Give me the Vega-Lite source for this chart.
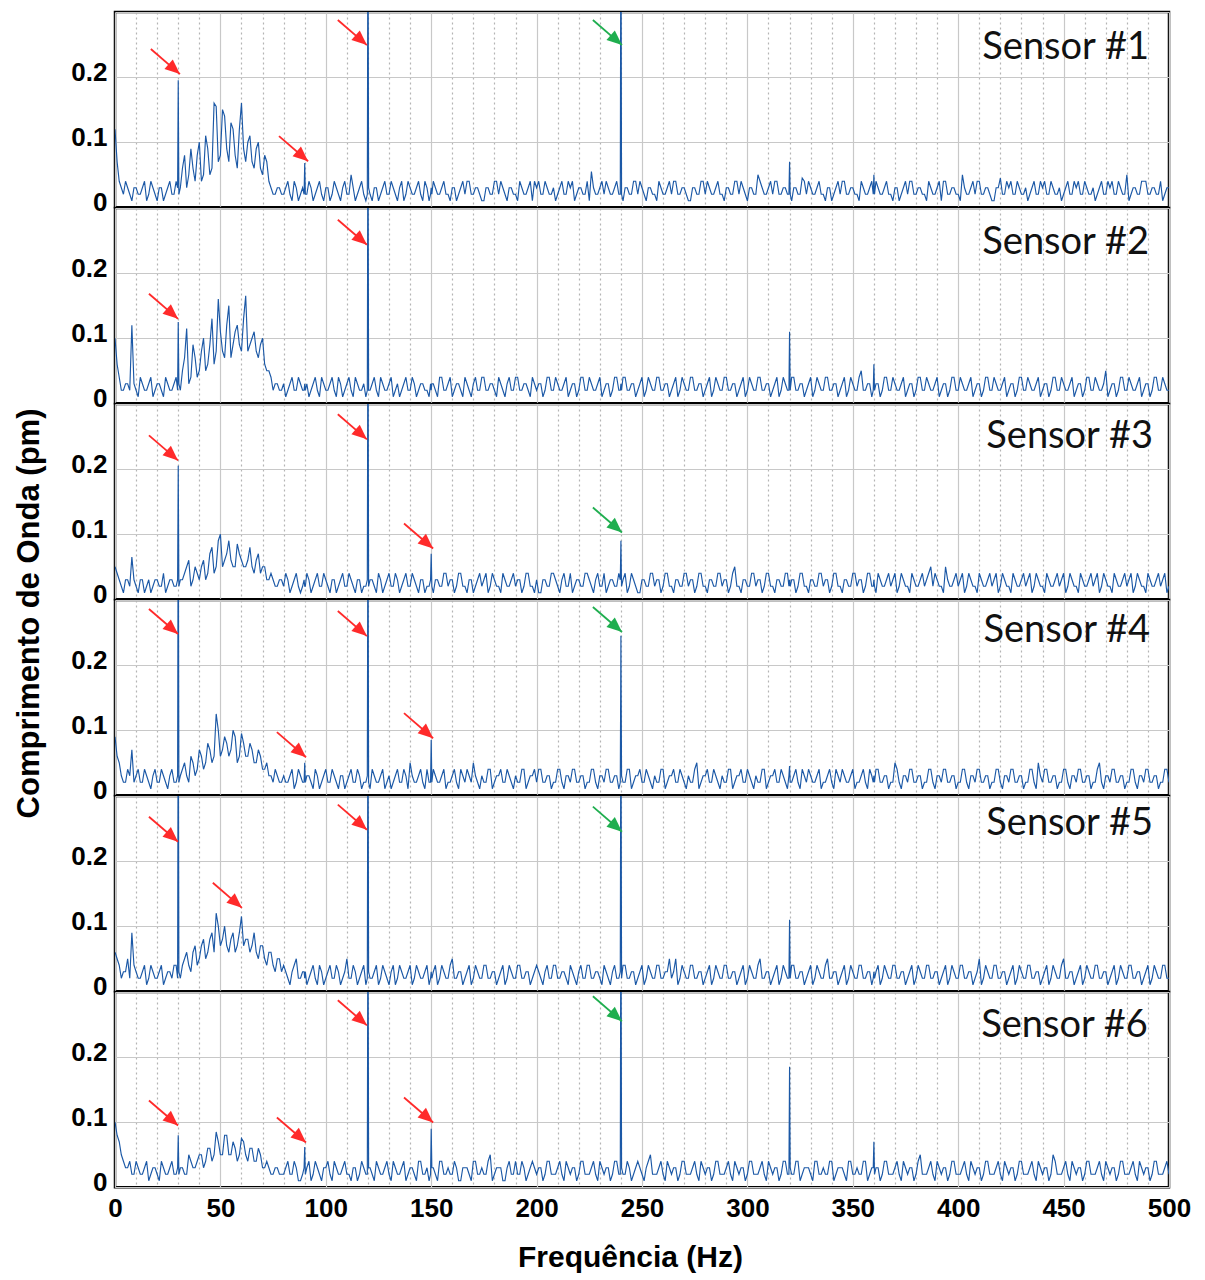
{
"$schema":"https://vega.github.io/schema/vega-lite/v6.json",
"padding":{"left":12,"top":10,"right":10,"bottom":5},
"spacing":0,
"bounds":"flush",
"config":{
"view":{"stroke":"#000","strokeWidth":2.5},
"axis":{"labelFont":"Liberation Sans","labelFontWeight":"bold","labelColor":"#000","titleFont":"Liberation Sans","titleFontWeight":"bold","titleColor":"#000","domain":false,"ticks":false,"gridColor":"#c8c8c8","gridWidth":1.2},
"axisY":{"tickCount":3,"labelFontSize":26,"labelPadding":8,"labelOffset":-5,"labelExpr":"datum.value>0.25?'':format(datum.value,'~g')","titleFontSize":31,"titlePadding":25},
"axisX":{"tickCount":50,"labelFontSize":26,"labelPadding":8,"labelFlush":false,"labelOverlap":false,"titleFontSize":30,"titlePadding":21}
},
"datasets":{
"s":[
{"x":0,"a":0.12,"b":0.10,"c":0.05,"d":0.09,"e":0.06,"f":0.10},
{"x":2,"a":0.04,"b":0.04,"c":0.03,"d":0.05,"e":0.04,"f":0.07},
{"x":4,"a":0.02,"b":0.02,"c":0.01,"d":0.02,"e":0.03,"f":0.04},
{"x":6,"a":0.03,"b":0.03,"c":0.03,"d":0.04,"e":0.05,"f":0.03},
{"x":8,"a":0.01,"b":0.12,"c":0.065,"d":0.07,"e":0.09,"f":0.02},
{"x":10,"a":0.03,"b":0.02,"c":0.02,"d":0.03,"e":0.03,"f":0.04},
{"x":12,"a":0.02,"b":0.04,"c":0.03,"d":0.02,"e":0.02,"f":0.02},
{"x":14,"a":0.04,"b":0.02,"c":0.01,"d":0.04,"e":0.04,"f":0.03},
{"x":16,"a":0.02,"b":0.03,"c":0.03,"d":0.02,"e":0.02,"f":0.01},
{"x":18,"a":0.03,"b":0.01,"c":0.02,"d":0.03,"e":0.03,"f":0.03},
{"x":20,"a":0.01,"b":0.03,"c":0.03,"d":0.02,"e":0.02,"f":0.02},
{"x":22,"a":0.03,"b":0.02,"c":0.02,"d":0.04,"e":0.04,"f":0.04},
{"x":24,"a":0.02,"b":0.04,"c":0.01,"d":0.02,"e":0.02,"f":0.02},
{"x":26,"a":0.04,"b":0.02,"c":0.03,"d":0.03,"e":0.03,"f":0.03},
{"x":28,"a":0.02,"b":0.03,"c":0.02,"d":0.02,"e":0.04,"f":0.02},
{"x":29.7,"a":0.03,"b":0.02,"c":0.03,"d":0.03,"e":0.02,"f":0.03},
{"x":30,"a":0.195,"b":0.125,"c":0.205,"d":0.5,"e":0.5,"f":0.08},
{"x":30.3,"a":0.02,"b":0.03,"c":0.02,"d":0.02,"e":0.03,"f":0.02},
{"x":32,"a":0.06,"b":0.05,"c":0.03,"d":0.04,"e":0.04,"f":0.03},
{"x":34,"a":0.03,"b":0.115,"c":0.05,"d":0.03,"e":0.06,"f":0.02},
{"x":36,"a":0.09,"b":0.04,"c":0.02,"d":0.06,"e":0.03,"f":0.04},
{"x":38,"a":0.04,"b":0.07,"c":0.05,"d":0.03,"e":0.07,"f":0.03},
{"x":40,"a":0.10,"b":0.05,"c":0.03,"d":0.07,"e":0.05,"f":0.05},
{"x":42,"a":0.05,"b":0.10,"c":0.06,"d":0.04,"e":0.08,"f":0.03},
{"x":44,"a":0.09,"b":0.06,"c":0.04,"d":0.08,"e":0.06,"f":0.06},
{"x":46,"a":0.06,"b":0.13,"c":0.08,"d":0.05,"e":0.09,"f":0.04},
{"x":48,"a":0.155,"b":0.08,"c":0.05,"d":0.125,"e":0.12,"f":0.085},
{"x":50,"a":0.08,"b":0.11,"c":0.10,"d":0.06,"e":0.07,"f":0.05},
{"x":52,"a":0.14,"b":0.07,"c":0.06,"d":0.09,"e":0.10,"f":0.08},
{"x":54,"a":0.07,"b":0.15,"c":0.09,"d":0.06,"e":0.06,"f":0.05},
{"x":56,"a":0.12,"b":0.09,"c":0.05,"d":0.10,"e":0.09,"f":0.07},
{"x":58,"a":0.06,"b":0.12,"c":0.085,"d":0.05,"e":0.07,"f":0.04},
{"x":60,"a":0.16,"b":0.08,"c":0.06,"d":0.095,"e":0.115,"f":0.075},
{"x":62,"a":0.07,"b":0.165,"c":0.05,"d":0.06,"e":0.08,"f":0.05},
{"x":64,"a":0.11,"b":0.09,"c":0.08,"d":0.08,"e":0.06,"f":0.06},
{"x":66,"a":0.06,"b":0.11,"c":0.04,"d":0.05,"e":0.09,"f":0.04},
{"x":68,"a":0.10,"b":0.07,"c":0.07,"d":0.07,"e":0.05,"f":0.06},
{"x":70,"a":0.05,"b":0.10,"c":0.05,"d":0.04,"e":0.07,"f":0.03},
{"x":72,"a":0.07,"b":0.05,"c":0.03,"d":0.05,"e":0.04,"f":0.04},
{"x":74,"a":0.03,"b":0.04,"c":0.04,"d":0.03,"e":0.06,"f":0.02},
{"x":76,"a":0.02,"b":0.03,"c":0.02,"d":0.04,"e":0.03,"f":0.03},
{"x":78,"a":0.03,"b":0.02,"c":0.03,"d":0.02,"e":0.05,"f":0.02},
{"x":80,"a":0.02,"b":0.03,"c":0.02,"d":0.03,"e":0.04,"f":0.02},
{"x":82,"a":0.04,"b":0.02,"c":0.03,"d":0.02,"e":0.02,"f":0.04},
{"x":84,"a":0.01,"b":0.04,"c":0.02,"d":0.04,"e":0.03,"f":0.02},
{"x":86,"a":0.03,"b":0.02,"c":0.04,"d":0.02,"e":0.05,"f":0.03},
{"x":88,"a":0.02,"b":0.03,"c":0.01,"d":0.03,"e":0.02,"f":0.01},
{"x":89.7,"a":0.02,"b":0.02,"c":0.03,"d":0.02,"e":0.03,"f":0.03},
{"x":90,"a":0.068,"b":0.03,"c":0.02,"d":0.05,"e":0.02,"f":0.062},
{"x":90.3,"a":0.02,"b":0.02,"c":0.02,"d":0.02,"e":0.03,"f":0.02},
{"x":92,"a":0.04,"b":0.01,"c":0.03,"d":0.03,"e":0.02,"f":0.04},
{"x":94,"a":0.01,"b":0.03,"c":0.02,"d":0.01,"e":0.04,"f":0.02},
{"x":96,"a":0.03,"b":0.02,"c":0.04,"d":0.03,"e":0.01,"f":0.03},
{"x":98,"a":0.02,"b":0.04,"c":0.02,"d":0.02,"e":0.03,"f":0.01},
{"x":100,"a":0.03,"b":0.02,"c":0.03,"d":0.04,"e":0.02,"f":0.03},
{"x":102,"a":0.01,"b":0.03,"c":0.01,"d":0.02,"e":0.04,"f":0.02},
{"x":104,"a":0.04,"b":0.02,"c":0.03,"d":0.03,"e":0.02,"f":0.04},
{"x":106,"a":0.02,"b":0.04,"c":0.02,"d":0.01,"e":0.03,"f":0.02},
{"x":108,"a":0.03,"b":0.01,"c":0.04,"d":0.03,"e":0.02,"f":0.03},
{"x":110,"a":0.02,"b":0.03,"c":0.02,"d":0.02,"e":0.05,"f":0.02},
{"x":112,"a":0.05,"b":0.02,"c":0.03,"d":0.04,"e":0.02,"f":0.01},
{"x":114,"a":0.01,"b":0.04,"c":0.01,"d":0.02,"e":0.03,"f":0.03},
{"x":116,"a":0.03,"b":0.02,"c":0.03,"d":0.03,"e":0.02,"f":0.02},
{"x":118,"a":0.02,"b":0.03,"c":0.02,"d":0.02,"e":0.04,"f":0.03},
{"x":119.7,"a":0.02,"b":0.02,"c":0.03,"d":0.03,"e":0.02,"f":0.02},
{"x":120,"a":0.5,"b":0.5,"c":0.5,"d":0.5,"e":0.5,"f":0.5},
{"x":120.3,"a":0.03,"b":0.02,"c":0.02,"d":0.02,"e":0.03,"f":0.03},
{"x":122,"a":0.01,"b":0.03,"c":0.03,"d":0.04,"e":0.02,"f":0.02},
{"x":124,"a":0.03,"b":0.02,"c":0.01,"d":0.02,"e":0.04,"f":0.04},
{"x":126,"a":0.02,"b":0.04,"c":0.03,"d":0.03,"e":0.02,"f":0.02},
{"x":128,"a":0.04,"b":0.02,"c":0.02,"d":0.01,"e":0.03,"f":0.03},
{"x":130,"a":0.02,"b":0.03,"c":0.04,"d":0.03,"e":0.01,"f":0.02},
{"x":132,"a":0.03,"b":0.01,"c":0.02,"d":0.02,"e":0.04,"f":0.04},
{"x":134,"a":0.01,"b":0.03,"c":0.03,"d":0.04,"e":0.02,"f":0.02},
{"x":136,"a":0.04,"b":0.02,"c":0.02,"d":0.02,"e":0.03,"f":0.03},
{"x":138,"a":0.02,"b":0.04,"c":0.04,"d":0.03,"e":0.02,"f":0.01},
{"x":140,"a":0.03,"b":0.02,"c":0.02,"d":0.05,"e":0.04,"f":0.03},
{"x":142,"a":0.02,"b":0.03,"c":0.03,"d":0.02,"e":0.02,"f":0.02},
{"x":144,"a":0.04,"b":0.02,"c":0.01,"d":0.03,"e":0.03,"f":0.04},
{"x":146,"a":0.01,"b":0.03,"c":0.03,"d":0.02,"e":0.02,"f":0.02},
{"x":148,"a":0.03,"b":0.02,"c":0.02,"d":0.04,"e":0.04,"f":0.03},
{"x":149.7,"a":0.02,"b":0.03,"c":0.03,"d":0.02,"e":0.02,"f":0.02},
{"x":150,"a":0.03,"b":0.02,"c":0.07,"d":0.085,"e":0.03,"f":0.09},
{"x":150.3,"a":0.02,"b":0.03,"c":0.02,"d":0.02,"e":0.02,"f":0.03},
{"x":152,"a":0.03,"b":0.02,"c":0.03,"d":0.03,"e":0.04,"f":0.02},
{"x":154,"a":0.02,"b":0.04,"c":0.02,"d":0.02,"e":0.02,"f":0.04},
{"x":156,"a":0.04,"b":0.02,"c":0.04,"d":0.04,"e":0.03,"f":0.02},
{"x":158,"a":0.02,"b":0.03,"c":0.02,"d":0.02,"e":0.02,"f":0.03},
{"x":160,"a":0.03,"b":0.01,"c":0.03,"d":0.03,"e":0.05,"f":0.02},
{"x":162,"a":0.01,"b":0.03,"c":0.02,"d":0.02,"e":0.02,"f":0.03},
{"x":164,"a":0.03,"b":0.02,"c":0.04,"d":0.04,"e":0.03,"f":0.01},
{"x":166,"a":0.02,"b":0.04,"c":0.02,"d":0.02,"e":0.02,"f":0.03},
{"x":168,"a":0.04,"b":0.02,"c":0.03,"d":0.03,"e":0.04,"f":0.02},
{"x":170,"a":0.02,"b":0.03,"c":0.01,"d":0.05,"e":0.02,"f":0.04},
{"x":172,"a":0.03,"b":0.02,"c":0.03,"d":0.02,"e":0.03,"f":0.02},
{"x":174,"a":0.01,"b":0.04,"c":0.02,"d":0.03,"e":0.02,"f":0.03},
{"x":176,"a":0.03,"b":0.02,"c":0.04,"d":0.02,"e":0.04,"f":0.02},
{"x":178,"a":0.02,"b":0.03,"c":0.02,"d":0.04,"e":0.02,"f":0.05},
{"x":180,"a":0.04,"b":0.02,"c":0.03,"d":0.02,"e":0.03,"f":0.02},
{"x":182,"a":0.02,"b":0.04,"c":0.02,"d":0.03,"e":0.02,"f":0.03},
{"x":184,"a":0.03,"b":0.02,"c":0.04,"d":0.02,"e":0.04,"f":0.01},
{"x":186,"a":0.01,"b":0.03,"c":0.02,"d":0.04,"e":0.02,"f":0.03},
{"x":188,"a":0.03,"b":0.02,"c":0.03,"d":0.02,"e":0.03,"f":0.02},
{"x":190,"a":0.02,"b":0.04,"c":0.02,"d":0.03,"e":0.02,"f":0.04},
{"x":192,"a":0.04,"b":0.02,"c":0.03,"d":0.02,"e":0.04,"f":0.02},
{"x":194,"a":0.02,"b":0.03,"c":0.02,"d":0.04,"e":0.02,"f":0.03},
{"x":196,"a":0.03,"b":0.02,"c":0.04,"d":0.02,"e":0.03,"f":0.02},
{"x":198,"a":0.01,"b":0.04,"c":0.02,"d":0.03,"e":0.02,"f":0.04},
{"x":200,"a":0.03,"b":0.02,"c":0.03,"d":0.02,"e":0.04,"f":0.02},
{"x":202,"a":0.02,"b":0.03,"c":0.01,"d":0.04,"e":0.02,"f":0.03},
{"x":204,"a":0.04,"b":0.02,"c":0.03,"d":0.02,"e":0.03,"f":0.02},
{"x":206,"a":0.02,"b":0.04,"c":0.02,"d":0.03,"e":0.02,"f":0.04},
{"x":208,"a":0.03,"b":0.02,"c":0.04,"d":0.02,"e":0.04,"f":0.02},
{"x":210,"a":0.02,"b":0.03,"c":0.02,"d":0.04,"e":0.02,"f":0.03},
{"x":212,"a":0.04,"b":0.02,"c":0.03,"d":0.02,"e":0.03,"f":0.02},
{"x":214,"a":0.02,"b":0.04,"c":0.02,"d":0.03,"e":0.02,"f":0.04},
{"x":216,"a":0.03,"b":0.02,"c":0.04,"d":0.02,"e":0.04,"f":0.02},
{"x":218,"a":0.01,"b":0.03,"c":0.02,"d":0.04,"e":0.02,"f":0.03},
{"x":220,"a":0.03,"b":0.02,"c":0.03,"d":0.02,"e":0.03,"f":0.02},
{"x":222,"a":0.02,"b":0.04,"c":0.02,"d":0.03,"e":0.02,"f":0.04},
{"x":224,"a":0.04,"b":0.02,"c":0.04,"d":0.02,"e":0.04,"f":0.02},
{"x":226,"a":0.055,"b":0.03,"c":0.02,"d":0.04,"e":0.02,"f":0.03},
{"x":228,"a":0.02,"b":0.02,"c":0.03,"d":0.02,"e":0.03,"f":0.02},
{"x":230,"a":0.03,"b":0.04,"c":0.02,"d":0.03,"e":0.02,"f":0.04},
{"x":232,"a":0.02,"b":0.02,"c":0.04,"d":0.02,"e":0.04,"f":0.02},
{"x":234,"a":0.03,"b":0.03,"c":0.02,"d":0.04,"e":0.02,"f":0.03},
{"x":236,"a":0.02,"b":0.02,"c":0.03,"d":0.02,"e":0.03,"f":0.02},
{"x":238,"a":0.04,"b":0.04,"c":0.02,"d":0.03,"e":0.02,"f":0.04},
{"x":239.7,"a":0.02,"b":0.02,"c":0.03,"d":0.02,"e":0.03,"f":0.02},
{"x":240,"a":0.5,"b":0.03,"c":0.09,"d":0.245,"e":0.5,"f":0.5},
{"x":240.3,"a":0.02,"b":0.02,"c":0.02,"d":0.03,"e":0.02,"f":0.03},
{"x":242,"a":0.03,"b":0.04,"c":0.04,"d":0.02,"e":0.04,"f":0.02},
{"x":244,"a":0.02,"b":0.02,"c":0.02,"d":0.04,"e":0.02,"f":0.03},
{"x":246,"a":0.04,"b":0.03,"c":0.03,"d":0.02,"e":0.03,"f":0.02},
{"x":248,"a":0.02,"b":0.02,"c":0.01,"d":0.03,"e":0.02,"f":0.04},
{"x":250,"a":0.03,"b":0.04,"c":0.03,"d":0.02,"e":0.04,"f":0.02},
{"x":252,"a":0.01,"b":0.02,"c":0.02,"d":0.04,"e":0.02,"f":0.03},
{"x":254,"a":0.03,"b":0.03,"c":0.04,"d":0.02,"e":0.03,"f":0.05},
{"x":256,"a":0.02,"b":0.02,"c":0.02,"d":0.03,"e":0.02,"f":0.02},
{"x":258,"a":0.04,"b":0.04,"c":0.03,"d":0.02,"e":0.04,"f":0.03},
{"x":260,"a":0.02,"b":0.02,"c":0.02,"d":0.04,"e":0.02,"f":0.02},
{"x":262,"a":0.03,"b":0.03,"c":0.04,"d":0.02,"e":0.03,"f":0.04},
{"x":264,"a":0.02,"b":0.02,"c":0.02,"d":0.03,"e":0.02,"f":0.02},
{"x":266,"a":0.04,"b":0.04,"c":0.03,"d":0.02,"e":0.05,"f":0.03},
{"x":268,"a":0.02,"b":0.02,"c":0.02,"d":0.04,"e":0.02,"f":0.02},
{"x":270,"a":0.03,"b":0.03,"c":0.04,"d":0.02,"e":0.03,"f":0.04},
{"x":272,"a":0.01,"b":0.02,"c":0.02,"d":0.03,"e":0.02,"f":0.02},
{"x":274,"a":0.03,"b":0.04,"c":0.03,"d":0.02,"e":0.04,"f":0.03},
{"x":276,"a":0.02,"b":0.02,"c":0.02,"d":0.05,"e":0.02,"f":0.02},
{"x":278,"a":0.04,"b":0.03,"c":0.04,"d":0.02,"e":0.03,"f":0.04},
{"x":280,"a":0.02,"b":0.02,"c":0.02,"d":0.03,"e":0.02,"f":0.02},
{"x":282,"a":0.03,"b":0.04,"c":0.03,"d":0.02,"e":0.04,"f":0.03},
{"x":284,"a":0.02,"b":0.02,"c":0.02,"d":0.04,"e":0.02,"f":0.02},
{"x":286,"a":0.04,"b":0.03,"c":0.04,"d":0.02,"e":0.03,"f":0.04},
{"x":288,"a":0.02,"b":0.02,"c":0.02,"d":0.03,"e":0.02,"f":0.02},
{"x":290,"a":0.03,"b":0.04,"c":0.03,"d":0.02,"e":0.04,"f":0.03},
{"x":292,"a":0.02,"b":0.02,"c":0.02,"d":0.04,"e":0.02,"f":0.02},
{"x":294,"a":0.04,"b":0.03,"c":0.05,"d":0.02,"e":0.03,"f":0.04},
{"x":296,"a":0.02,"b":0.02,"c":0.02,"d":0.03,"e":0.02,"f":0.02},
{"x":298,"a":0.03,"b":0.04,"c":0.03,"d":0.02,"e":0.04,"f":0.03},
{"x":300,"a":0.01,"b":0.02,"c":0.02,"d":0.04,"e":0.02,"f":0.02},
{"x":302,"a":0.03,"b":0.03,"c":0.04,"d":0.02,"e":0.03,"f":0.04},
{"x":304,"a":0.02,"b":0.02,"c":0.02,"d":0.03,"e":0.02,"f":0.02},
{"x":306,"a":0.04,"b":0.04,"c":0.03,"d":0.02,"e":0.05,"f":0.03},
{"x":308,"a":0.02,"b":0.02,"c":0.02,"d":0.04,"e":0.02,"f":0.02},
{"x":310,"a":0.03,"b":0.03,"c":0.04,"d":0.02,"e":0.03,"f":0.04},
{"x":312,"a":0.02,"b":0.02,"c":0.02,"d":0.03,"e":0.02,"f":0.02},
{"x":314,"a":0.04,"b":0.04,"c":0.03,"d":0.02,"e":0.04,"f":0.03},
{"x":316,"a":0.02,"b":0.02,"c":0.02,"d":0.04,"e":0.02,"f":0.02},
{"x":318,"a":0.03,"b":0.03,"c":0.04,"d":0.02,"e":0.03,"f":0.04},
{"x":319.7,"a":0.02,"b":0.02,"c":0.02,"d":0.03,"e":0.02,"f":0.02},
{"x":320,"a":0.07,"b":0.11,"c":0.03,"d":0.045,"e":0.11,"f":0.185},
{"x":320.3,"a":0.02,"b":0.02,"c":0.02,"d":0.02,"e":0.02,"f":0.03},
{"x":322,"a":0.03,"b":0.04,"c":0.03,"d":0.03,"e":0.04,"f":0.02},
{"x":324,"a":0.02,"b":0.02,"c":0.02,"d":0.02,"e":0.02,"f":0.04},
{"x":326,"a":0.045,"b":0.03,"c":0.04,"d":0.04,"e":0.03,"f":0.02},
{"x":328,"a":0.02,"b":0.02,"c":0.02,"d":0.02,"e":0.02,"f":0.03},
{"x":330,"a":0.03,"b":0.04,"c":0.03,"d":0.03,"e":0.04,"f":0.02},
{"x":332,"a":0.02,"b":0.02,"c":0.02,"d":0.02,"e":0.02,"f":0.04},
{"x":334,"a":0.04,"b":0.03,"c":0.04,"d":0.04,"e":0.03,"f":0.02},
{"x":336,"a":0.02,"b":0.02,"c":0.02,"d":0.02,"e":0.02,"f":0.03},
{"x":338,"a":0.03,"b":0.04,"c":0.03,"d":0.03,"e":0.05,"f":0.02},
{"x":340,"a":0.01,"b":0.02,"c":0.02,"d":0.02,"e":0.02,"f":0.04},
{"x":342,"a":0.03,"b":0.03,"c":0.04,"d":0.04,"e":0.03,"f":0.02},
{"x":344,"a":0.02,"b":0.02,"c":0.02,"d":0.02,"e":0.02,"f":0.03},
{"x":346,"a":0.04,"b":0.04,"c":0.03,"d":0.03,"e":0.04,"f":0.02},
{"x":348,"a":0.02,"b":0.02,"c":0.02,"d":0.02,"e":0.02,"f":0.04},
{"x":350,"a":0.03,"b":0.03,"c":0.04,"d":0.04,"e":0.03,"f":0.02},
{"x":352,"a":0.02,"b":0.02,"c":0.02,"d":0.02,"e":0.02,"f":0.03},
{"x":354,"a":0.04,"b":0.05,"c":0.03,"d":0.03,"e":0.04,"f":0.02},
{"x":356,"a":0.02,"b":0.02,"c":0.02,"d":0.02,"e":0.02,"f":0.04},
{"x":358,"a":0.03,"b":0.03,"c":0.04,"d":0.04,"e":0.03,"f":0.02},
{"x":359.7,"a":0.02,"b":0.02,"c":0.02,"d":0.02,"e":0.02,"f":0.03},
{"x":360,"a":0.05,"b":0.06,"c":0.03,"d":0.03,"e":0.03,"f":0.07},
{"x":360.3,"a":0.02,"b":0.02,"c":0.02,"d":0.02,"e":0.02,"f":0.02},
{"x":362,"a":0.03,"b":0.03,"c":0.04,"d":0.04,"e":0.04,"f":0.03},
{"x":364,"a":0.02,"b":0.02,"c":0.02,"d":0.02,"e":0.02,"f":0.02},
{"x":366,"a":0.04,"b":0.04,"c":0.03,"d":0.03,"e":0.03,"f":0.04},
{"x":368,"a":0.02,"b":0.02,"c":0.02,"d":0.02,"e":0.02,"f":0.02},
{"x":370,"a":0.03,"b":0.03,"c":0.04,"d":0.05,"e":0.04,"f":0.03},
{"x":372,"a":0.01,"b":0.02,"c":0.02,"d":0.02,"e":0.02,"f":0.02},
{"x":374,"a":0.03,"b":0.04,"c":0.03,"d":0.03,"e":0.03,"f":0.04},
{"x":376,"a":0.02,"b":0.02,"c":0.02,"d":0.02,"e":0.02,"f":0.02},
{"x":378,"a":0.04,"b":0.03,"c":0.04,"d":0.04,"e":0.04,"f":0.03},
{"x":380,"a":0.02,"b":0.02,"c":0.02,"d":0.02,"e":0.02,"f":0.02},
{"x":382,"a":0.03,"b":0.04,"c":0.03,"d":0.03,"e":0.03,"f":0.05},
{"x":384,"a":0.02,"b":0.02,"c":0.02,"d":0.02,"e":0.02,"f":0.02},
{"x":386,"a":0.04,"b":0.03,"c":0.04,"d":0.04,"e":0.04,"f":0.03},
{"x":388,"a":0.02,"b":0.02,"c":0.02,"d":0.02,"e":0.02,"f":0.02},
{"x":390,"a":0.03,"b":0.04,"c":0.03,"d":0.03,"e":0.03,"f":0.04},
{"x":392,"a":0.01,"b":0.02,"c":0.02,"d":0.02,"e":0.02,"f":0.02},
{"x":394,"a":0.04,"b":0.03,"c":0.05,"d":0.04,"e":0.04,"f":0.03},
{"x":396,"a":0.02,"b":0.02,"c":0.02,"d":0.02,"e":0.02,"f":0.02},
{"x":398,"a":0.03,"b":0.04,"c":0.03,"d":0.03,"e":0.03,"f":0.04},
{"x":400,"a":0.02,"b":0.02,"c":0.02,"d":0.02,"e":0.02,"f":0.02},
{"x":402,"a":0.05,"b":0.03,"c":0.04,"d":0.04,"e":0.04,"f":0.03},
{"x":404,"a":0.02,"b":0.02,"c":0.02,"d":0.02,"e":0.02,"f":0.02},
{"x":406,"a":0.03,"b":0.04,"c":0.03,"d":0.03,"e":0.03,"f":0.04},
{"x":408,"a":0.02,"b":0.02,"c":0.02,"d":0.02,"e":0.02,"f":0.02},
{"x":410,"a":0.04,"b":0.03,"c":0.04,"d":0.04,"e":0.05,"f":0.03},
{"x":412,"a":0.02,"b":0.02,"c":0.02,"d":0.02,"e":0.02,"f":0.02},
{"x":414,"a":0.03,"b":0.04,"c":0.03,"d":0.03,"e":0.03,"f":0.04},
{"x":416,"a":0.01,"b":0.02,"c":0.02,"d":0.02,"e":0.02,"f":0.02},
{"x":418,"a":0.03,"b":0.03,"c":0.04,"d":0.04,"e":0.04,"f":0.03},
{"x":420,"a":0.045,"b":0.02,"c":0.02,"d":0.02,"e":0.02,"f":0.02},
{"x":422,"a":0.02,"b":0.04,"c":0.03,"d":0.03,"e":0.03,"f":0.04},
{"x":424,"a":0.03,"b":0.02,"c":0.02,"d":0.02,"e":0.02,"f":0.02},
{"x":426,"a":0.02,"b":0.03,"c":0.04,"d":0.04,"e":0.04,"f":0.03},
{"x":428,"a":0.04,"b":0.02,"c":0.02,"d":0.02,"e":0.02,"f":0.02},
{"x":430,"a":0.02,"b":0.04,"c":0.03,"d":0.03,"e":0.03,"f":0.04},
{"x":432,"a":0.03,"b":0.02,"c":0.02,"d":0.02,"e":0.02,"f":0.02},
{"x":434,"a":0.02,"b":0.03,"c":0.04,"d":0.04,"e":0.04,"f":0.03},
{"x":436,"a":0.04,"b":0.02,"c":0.02,"d":0.02,"e":0.02,"f":0.02},
{"x":438,"a":0.02,"b":0.04,"c":0.03,"d":0.05,"e":0.03,"f":0.04},
{"x":440,"a":0.03,"b":0.02,"c":0.02,"d":0.02,"e":0.02,"f":0.02},
{"x":442,"a":0.02,"b":0.03,"c":0.04,"d":0.04,"e":0.04,"f":0.03},
{"x":444,"a":0.04,"b":0.02,"c":0.02,"d":0.02,"e":0.02,"f":0.02},
{"x":446,"a":0.02,"b":0.04,"c":0.03,"d":0.03,"e":0.03,"f":0.04},
{"x":448,"a":0.03,"b":0.02,"c":0.02,"d":0.02,"e":0.02,"f":0.02},
{"x":450,"a":0.02,"b":0.03,"c":0.04,"d":0.04,"e":0.05,"f":0.03},
{"x":452,"a":0.04,"b":0.02,"c":0.02,"d":0.02,"e":0.02,"f":0.02},
{"x":454,"a":0.02,"b":0.04,"c":0.03,"d":0.03,"e":0.03,"f":0.04},
{"x":456,"a":0.03,"b":0.02,"c":0.02,"d":0.02,"e":0.02,"f":0.02},
{"x":458,"a":0.02,"b":0.03,"c":0.04,"d":0.04,"e":0.04,"f":0.03},
{"x":460,"a":0.04,"b":0.02,"c":0.02,"d":0.02,"e":0.02,"f":0.02},
{"x":462,"a":0.02,"b":0.04,"c":0.03,"d":0.03,"e":0.03,"f":0.04},
{"x":464,"a":0.03,"b":0.02,"c":0.02,"d":0.02,"e":0.02,"f":0.02},
{"x":466,"a":0.02,"b":0.03,"c":0.04,"d":0.04,"e":0.04,"f":0.03},
{"x":468,"a":0.04,"b":0.02,"c":0.02,"d":0.02,"e":0.02,"f":0.02},
{"x":470,"a":0.02,"b":0.05,"c":0.03,"d":0.03,"e":0.03,"f":0.04},
{"x":472,"a":0.03,"b":0.02,"c":0.02,"d":0.02,"e":0.02,"f":0.02},
{"x":474,"a":0.02,"b":0.03,"c":0.04,"d":0.04,"e":0.04,"f":0.03},
{"x":476,"a":0.04,"b":0.02,"c":0.02,"d":0.02,"e":0.02,"f":0.02},
{"x":478,"a":0.02,"b":0.04,"c":0.03,"d":0.03,"e":0.03,"f":0.04},
{"x":480,"a":0.05,"b":0.02,"c":0.02,"d":0.02,"e":0.02,"f":0.02},
{"x":482,"a":0.02,"b":0.03,"c":0.04,"d":0.04,"e":0.04,"f":0.03},
{"x":484,"a":0.03,"b":0.02,"c":0.02,"d":0.02,"e":0.02,"f":0.02},
{"x":486,"a":0.02,"b":0.04,"c":0.03,"d":0.03,"e":0.03,"f":0.04},
{"x":488,"a":0.04,"b":0.02,"c":0.02,"d":0.02,"e":0.02,"f":0.02},
{"x":490,"a":0.02,"b":0.03,"c":0.04,"d":0.04,"e":0.04,"f":0.03},
{"x":492,"a":0.03,"b":0.02,"c":0.02,"d":0.02,"e":0.02,"f":0.02},
{"x":494,"a":0.02,"b":0.04,"c":0.03,"d":0.03,"e":0.03,"f":0.04},
{"x":496,"a":0.04,"b":0.02,"c":0.02,"d":0.02,"e":0.02,"f":0.02},
{"x":498,"a":0.02,"b":0.03,"c":0.04,"d":0.04,"e":0.04,"f":0.03},
{"x":500,"a":0.03,"b":0.02,"c":0.02,"d":0.02,"e":0.02,"f":0.02},
{"x":1,"a":0.07,"b":0.06,"c":0.04,"d":0.06,"e":0.05,"f":0.08},
{"x":3,"a":0.03,"b":0.02,"c":0.02,"d":0.03,"e":0.02,"f":0.05},
{"x":5,"a":0.04,"b":0.03,"c":0.03,"d":0.02,"e":0.03,"f":0.03},
{"x":7,"a":0.02,"b":0.02,"c":0.02,"d":0.03,"e":0.02,"f":0.04},
{"x":9,"a":0.03,"b":0.03,"c":0.03,"d":0.02,"e":0.04,"f":0.02},
{"x":11,"a":0.02,"b":0.01,"c":0.01,"d":0.04,"e":0.02,"f":0.03},
{"x":13,"a":0.03,"b":0.03,"c":0.03,"d":0.02,"e":0.03,"f":0.02},
{"x":15,"a":0.01,"b":0.02,"c":0.02,"d":0.03,"e":0.01,"f":0.04},
{"x":17,"a":0.04,"b":0.04,"c":0.01,"d":0.01,"e":0.04,"f":0.02},
{"x":19,"a":0.02,"b":0.02,"c":0.03,"d":0.04,"e":0.02,"f":0.03},
{"x":21,"a":0.03,"b":0.03,"c":0.02,"d":0.02,"e":0.03,"f":0.01},
{"x":23,"a":0.01,"b":0.01,"c":0.04,"d":0.03,"e":0.01,"f":0.03},
{"x":25,"a":0.03,"b":0.03,"c":0.02,"d":0.01,"e":0.03,"f":0.02},
{"x":27,"a":0.02,"b":0.02,"c":0.03,"d":0.04,"e":0.02,"f":0.04},
{"x":29,"a":0.04,"b":0.04,"c":0.02,"d":0.02,"e":0.04,"f":0.02},
{"x":31,"a":0.03,"b":0.02,"c":0.03,"d":0.03,"e":0.02,"f":0.03},
{"x":33,"a":0.08,"b":0.07,"c":0.04,"d":0.05,"e":0.05,"f":0.02},
{"x":35,"a":0.05,"b":0.03,"c":0.06,"d":0.02,"e":0.04,"f":0.05},
{"x":37,"a":0.06,"b":0.09,"c":0.03,"d":0.05,"e":0.06,"f":0.03},
{"x":39,"a":0.08,"b":0.04,"c":0.04,"d":0.04,"e":0.04,"f":0.04},
{"x":41,"a":0.04,"b":0.08,"c":0.05,"d":0.06,"e":0.07,"f":0.05},
{"x":43,"a":0.11,"b":0.05,"c":0.03,"d":0.05,"e":0.05,"f":0.04},
{"x":45,"a":0.05,"b":0.09,"c":0.07,"d":0.07,"e":0.08,"f":0.06},
{"x":47,"a":0.16,"b":0.06,"c":0.04,"d":0.06,"e":0.06,"f":0.05},
{"x":49,"a":0.07,"b":0.16,"c":0.09,"d":0.10,"e":0.10,"f":0.07},
{"x":51,"a":0.15,"b":0.08,"c":0.05,"d":0.07,"e":0.08,"f":0.05},
{"x":53,"a":0.09,"b":0.12,"c":0.07,"d":0.08,"e":0.07,"f":0.08},
{"x":55,"a":0.13,"b":0.07,"c":0.06,"d":0.07,"e":0.08,"f":0.05},
{"x":57,"a":0.08,"b":0.11,"c":0.05,"d":0.09,"e":0.06,"f":0.06},
{"x":59,"a":0.12,"b":0.09,"c":0.07,"d":0.06,"e":0.09,"f":0.05},
{"x":61,"a":0.09,"b":0.13,"c":0.05,"d":0.08,"e":0.07,"f":0.07},
{"x":63,"a":0.10,"b":0.08,"c":0.06,"d":0.06,"e":0.08,"f":0.04},
{"x":65,"a":0.07,"b":0.10,"c":0.05,"d":0.07,"e":0.07,"f":0.06},
{"x":67,"a":0.09,"b":0.08,"c":0.06,"d":0.05,"e":0.06,"f":0.04},
{"x":69,"a":0.06,"b":0.09,"c":0.04,"d":0.06,"e":0.07,"f":0.05},
{"x":71,"a":0.08,"b":0.06,"c":0.05,"d":0.04,"e":0.05,"f":0.03},
{"x":73,"a":0.04,"b":0.05,"c":0.03,"d":0.03,"e":0.06,"f":0.03},
{"x":75,"a":0.02,"b":0.02,"c":0.03,"d":0.02,"e":0.04,"f":0.02},
{"x":77,"a":0.03,"b":0.03,"c":0.02,"d":0.03,"e":0.05,"f":0.03},
{"x":79,"a":0.02,"b":0.02,"c":0.03,"d":0.02,"e":0.03,"f":0.02},
{"x":81,"a":0.03,"b":0.01,"c":0.04,"d":0.02,"e":0.03,"f":0.03},
{"x":83,"a":0.02,"b":0.03,"c":0.01,"d":0.03,"e":0.01,"f":0.02},
{"x":85,"a":0.04,"b":0.02,"c":0.03,"d":0.01,"e":0.04,"f":0.04},
{"x":87,"a":0.01,"b":0.04,"c":0.02,"d":0.04,"e":0.02,"f":0.01},
{"x":89,"a":0.03,"b":0.02,"c":0.02,"d":0.02,"e":0.03,"f":0.02},
{"x":91,"a":0.02,"b":0.03,"c":0.04,"d":0.03,"e":0.01,"f":0.03},
{"x":93,"a":0.03,"b":0.02,"c":0.01,"d":0.02,"e":0.03,"f":0.01},
{"x":95,"a":0.02,"b":0.04,"c":0.03,"d":0.04,"e":0.02,"f":0.04},
{"x":97,"a":0.04,"b":0.01,"c":0.02,"d":0.01,"e":0.04,"f":0.02},
{"x":99,"a":0.01,"b":0.03,"c":0.04,"d":0.03,"e":0.01,"f":0.03},
{"x":101,"a":0.03,"b":0.02,"c":0.02,"d":0.02,"e":0.03,"f":0.04},
{"x":103,"a":0.02,"b":0.04,"c":0.03,"d":0.04,"e":0.02,"f":0.01},
{"x":105,"a":0.03,"b":0.01,"c":0.01,"d":0.02,"e":0.04,"f":0.03},
{"x":107,"a":0.01,"b":0.03,"c":0.03,"d":0.03,"e":0.01,"f":0.02},
{"x":109,"a":0.04,"b":0.02,"c":0.02,"d":0.01,"e":0.03,"f":0.04},
{"x":111,"a":0.02,"b":0.04,"c":0.04,"d":0.03,"e":0.02,"f":0.02},
{"x":113,"a":0.03,"b":0.01,"c":0.02,"d":0.02,"e":0.04,"f":0.03},
{"x":115,"a":0.02,"b":0.03,"c":0.03,"d":0.04,"e":0.01,"f":0.01},
{"x":117,"a":0.04,"b":0.02,"c":0.01,"d":0.01,"e":0.03,"f":0.04},
{"x":119,"a":0.01,"b":0.01,"c":0.02,"d":0.02,"e":0.01,"f":0.02},
{"x":121,"a":0.02,"b":0.02,"c":0.03,"d":0.01,"e":0.02,"f":0.03},
{"x":123,"a":0.03,"b":0.04,"c":0.02,"d":0.03,"e":0.03,"f":0.01},
{"x":125,"a":0.01,"b":0.01,"c":0.04,"d":0.02,"e":0.01,"f":0.03},
{"x":127,"a":0.03,"b":0.03,"c":0.01,"d":0.04,"e":0.04,"f":0.02},
{"x":129,"a":0.02,"b":0.02,"c":0.03,"d":0.02,"e":0.02,"f":0.04},
{"x":131,"a":0.04,"b":0.04,"c":0.02,"d":0.01,"e":0.03,"f":0.01},
{"x":133,"a":0.02,"b":0.02,"c":0.04,"d":0.03,"e":0.01,"f":0.03},
{"x":135,"a":0.03,"b":0.01,"c":0.01,"d":0.02,"e":0.04,"f":0.02},
{"x":137,"a":0.01,"b":0.03,"c":0.03,"d":0.04,"e":0.02,"f":0.04},
{"x":139,"a":0.04,"b":0.02,"c":0.02,"d":0.01,"e":0.03,"f":0.02},
{"x":141,"a":0.02,"b":0.04,"c":0.04,"d":0.03,"e":0.01,"f":0.03},
{"x":143,"a":0.03,"b":0.01,"c":0.02,"d":0.02,"e":0.04,"f":0.01},
{"x":145,"a":0.02,"b":0.03,"c":0.03,"d":0.04,"e":0.02,"f":0.04},
{"x":147,"a":0.04,"b":0.02,"c":0.01,"d":0.01,"e":0.03,"f":0.02},
{"x":149,"a":0.01,"b":0.01,"c":0.02,"d":0.02,"e":0.01,"f":0.01},
{"x":151,"a":0.04,"b":0.03,"c":0.01,"d":0.04,"e":0.03,"f":0.03},
{"x":153,"a":0.02,"b":0.01,"c":0.03,"d":0.02,"e":0.01,"f":0.01},
{"x":155,"a":0.03,"b":0.04,"c":0.02,"d":0.03,"e":0.04,"f":0.04},
{"x":157,"a":0.02,"b":0.02,"c":0.04,"d":0.01,"e":0.02,"f":0.02},
{"x":159,"a":0.01,"b":0.04,"c":0.03,"d":0.02,"e":0.04,"f":0.02},
{"x":161,"a":0.03,"b":0.02,"c":0.01,"d":0.04,"e":0.02,"f":0.04},
{"x":163,"a":0.02,"b":0.03,"c":0.04,"d":0.01,"e":0.03,"f":0.01},
{"x":165,"a":0.04,"b":0.01,"c":0.02,"d":0.03,"e":0.01,"f":0.03},
{"x":167,"a":0.04,"b":0.03,"c":0.01,"d":0.04,"e":0.03,"f":0.03},
{"x":169,"a":0.02,"b":0.01,"c":0.03,"d":0.02,"e":0.01,"f":0.01},
{"x":171,"a":0.03,"b":0.04,"c":0.02,"d":0.03,"e":0.04,"f":0.04},
{"x":173,"a":0.02,"b":0.02,"c":0.04,"d":0.01,"e":0.02,"f":0.02},
{"x":175,"a":0.01,"b":0.04,"c":0.03,"d":0.02,"e":0.04,"f":0.02},
{"x":177,"a":0.03,"b":0.02,"c":0.01,"d":0.04,"e":0.02,"f":0.04},
{"x":179,"a":0.02,"b":0.03,"c":0.04,"d":0.01,"e":0.03,"f":0.01},
{"x":181,"a":0.04,"b":0.01,"c":0.02,"d":0.03,"e":0.01,"f":0.03},
{"x":183,"a":0.04,"b":0.03,"c":0.01,"d":0.04,"e":0.03,"f":0.03},
{"x":185,"a":0.02,"b":0.01,"c":0.03,"d":0.02,"e":0.01,"f":0.01},
{"x":187,"a":0.03,"b":0.04,"c":0.02,"d":0.03,"e":0.04,"f":0.04},
{"x":189,"a":0.02,"b":0.02,"c":0.04,"d":0.01,"e":0.02,"f":0.02},
{"x":191,"a":0.01,"b":0.04,"c":0.03,"d":0.02,"e":0.04,"f":0.02},
{"x":193,"a":0.03,"b":0.02,"c":0.01,"d":0.04,"e":0.02,"f":0.04},
{"x":195,"a":0.02,"b":0.03,"c":0.04,"d":0.01,"e":0.03,"f":0.01},
{"x":197,"a":0.04,"b":0.01,"c":0.02,"d":0.03,"e":0.01,"f":0.03},
{"x":199,"a":0.04,"b":0.03,"c":0.01,"d":0.04,"e":0.03,"f":0.03},
{"x":201,"a":0.04,"b":0.03,"c":0.01,"d":0.04,"e":0.03,"f":0.03},
{"x":203,"a":0.02,"b":0.01,"c":0.03,"d":0.02,"e":0.01,"f":0.01},
{"x":205,"a":0.03,"b":0.04,"c":0.02,"d":0.03,"e":0.04,"f":0.04},
{"x":207,"a":0.02,"b":0.02,"c":0.04,"d":0.01,"e":0.02,"f":0.02},
{"x":209,"a":0.01,"b":0.04,"c":0.03,"d":0.02,"e":0.04,"f":0.02},
{"x":211,"a":0.03,"b":0.02,"c":0.01,"d":0.04,"e":0.02,"f":0.04},
{"x":213,"a":0.02,"b":0.03,"c":0.04,"d":0.01,"e":0.03,"f":0.01},
{"x":215,"a":0.04,"b":0.01,"c":0.02,"d":0.03,"e":0.01,"f":0.03},
{"x":217,"a":0.04,"b":0.03,"c":0.01,"d":0.04,"e":0.03,"f":0.03},
{"x":219,"a":0.02,"b":0.01,"c":0.03,"d":0.02,"e":0.01,"f":0.01},
{"x":221,"a":0.03,"b":0.04,"c":0.02,"d":0.03,"e":0.04,"f":0.04},
{"x":223,"a":0.02,"b":0.02,"c":0.04,"d":0.01,"e":0.02,"f":0.02},
{"x":225,"a":0.01,"b":0.04,"c":0.03,"d":0.02,"e":0.04,"f":0.02},
{"x":227,"a":0.03,"b":0.02,"c":0.01,"d":0.04,"e":0.02,"f":0.04},
{"x":229,"a":0.02,"b":0.03,"c":0.04,"d":0.01,"e":0.03,"f":0.01},
{"x":231,"a":0.04,"b":0.01,"c":0.02,"d":0.03,"e":0.01,"f":0.03},
{"x":233,"a":0.04,"b":0.03,"c":0.01,"d":0.04,"e":0.03,"f":0.03},
{"x":235,"a":0.02,"b":0.01,"c":0.03,"d":0.02,"e":0.01,"f":0.01},
{"x":237,"a":0.03,"b":0.04,"c":0.02,"d":0.03,"e":0.04,"f":0.04},
{"x":239,"a":0.02,"b":0.02,"c":0.04,"d":0.01,"e":0.02,"f":0.02},
{"x":241,"a":0.01,"b":0.04,"c":0.03,"d":0.02,"e":0.04,"f":0.02},
{"x":243,"a":0.03,"b":0.02,"c":0.01,"d":0.04,"e":0.02,"f":0.04},
{"x":245,"a":0.02,"b":0.03,"c":0.04,"d":0.01,"e":0.03,"f":0.01},
{"x":247,"a":0.04,"b":0.01,"c":0.02,"d":0.03,"e":0.01,"f":0.03},
{"x":249,"a":0.04,"b":0.03,"c":0.01,"d":0.04,"e":0.03,"f":0.03},
{"x":251,"a":0.02,"b":0.01,"c":0.03,"d":0.02,"e":0.01,"f":0.01},
{"x":253,"a":0.03,"b":0.04,"c":0.02,"d":0.03,"e":0.04,"f":0.04},
{"x":255,"a":0.02,"b":0.02,"c":0.04,"d":0.01,"e":0.02,"f":0.02},
{"x":257,"a":0.01,"b":0.04,"c":0.03,"d":0.02,"e":0.04,"f":0.02},
{"x":259,"a":0.03,"b":0.02,"c":0.01,"d":0.04,"e":0.02,"f":0.04},
{"x":261,"a":0.02,"b":0.03,"c":0.04,"d":0.01,"e":0.03,"f":0.01},
{"x":263,"a":0.04,"b":0.01,"c":0.02,"d":0.03,"e":0.05,"f":0.03},
{"x":265,"a":0.04,"b":0.03,"c":0.01,"d":0.04,"e":0.03,"f":0.03},
{"x":267,"a":0.02,"b":0.01,"c":0.03,"d":0.02,"e":0.01,"f":0.01},
{"x":269,"a":0.03,"b":0.04,"c":0.02,"d":0.03,"e":0.04,"f":0.04},
{"x":271,"a":0.02,"b":0.02,"c":0.04,"d":0.01,"e":0.02,"f":0.02},
{"x":273,"a":0.01,"b":0.04,"c":0.03,"d":0.02,"e":0.04,"f":0.02},
{"x":275,"a":0.03,"b":0.02,"c":0.01,"d":0.04,"e":0.02,"f":0.04},
{"x":277,"a":0.02,"b":0.03,"c":0.04,"d":0.01,"e":0.03,"f":0.01},
{"x":279,"a":0.04,"b":0.01,"c":0.02,"d":0.03,"e":0.01,"f":0.03},
{"x":281,"a":0.04,"b":0.03,"c":0.01,"d":0.04,"e":0.03,"f":0.03},
{"x":283,"a":0.02,"b":0.01,"c":0.03,"d":0.02,"e":0.01,"f":0.01},
{"x":285,"a":0.03,"b":0.04,"c":0.02,"d":0.03,"e":0.04,"f":0.04},
{"x":287,"a":0.02,"b":0.02,"c":0.04,"d":0.01,"e":0.02,"f":0.02},
{"x":289,"a":0.01,"b":0.04,"c":0.03,"d":0.02,"e":0.04,"f":0.02},
{"x":291,"a":0.03,"b":0.02,"c":0.01,"d":0.04,"e":0.02,"f":0.04},
{"x":293,"a":0.02,"b":0.03,"c":0.04,"d":0.01,"e":0.03,"f":0.01},
{"x":295,"a":0.04,"b":0.01,"c":0.02,"d":0.03,"e":0.01,"f":0.03},
{"x":297,"a":0.04,"b":0.03,"c":0.01,"d":0.04,"e":0.03,"f":0.03},
{"x":299,"a":0.02,"b":0.01,"c":0.03,"d":0.02,"e":0.01,"f":0.01},
{"x":301,"a":0.03,"b":0.04,"c":0.02,"d":0.03,"e":0.04,"f":0.04},
{"x":303,"a":0.02,"b":0.02,"c":0.04,"d":0.01,"e":0.02,"f":0.02},
{"x":305,"a":0.05,"b":0.04,"c":0.03,"d":0.02,"e":0.04,"f":0.02},
{"x":307,"a":0.03,"b":0.02,"c":0.01,"d":0.04,"e":0.02,"f":0.04},
{"x":309,"a":0.02,"b":0.03,"c":0.04,"d":0.01,"e":0.03,"f":0.01},
{"x":311,"a":0.04,"b":0.01,"c":0.02,"d":0.03,"e":0.01,"f":0.03},
{"x":313,"a":0.04,"b":0.03,"c":0.01,"d":0.04,"e":0.03,"f":0.03},
{"x":315,"a":0.02,"b":0.01,"c":0.03,"d":0.02,"e":0.01,"f":0.01},
{"x":317,"a":0.03,"b":0.04,"c":0.02,"d":0.03,"e":0.04,"f":0.04},
{"x":319,"a":0.02,"b":0.02,"c":0.04,"d":0.01,"e":0.02,"f":0.02},
{"x":321,"a":0.01,"b":0.04,"c":0.03,"d":0.02,"e":0.04,"f":0.02},
{"x":323,"a":0.03,"b":0.02,"c":0.01,"d":0.04,"e":0.02,"f":0.04},
{"x":325,"a":0.02,"b":0.03,"c":0.04,"d":0.01,"e":0.03,"f":0.01},
{"x":327,"a":0.04,"b":0.01,"c":0.02,"d":0.03,"e":0.01,"f":0.03},
{"x":329,"a":0.04,"b":0.03,"c":0.01,"d":0.04,"e":0.03,"f":0.03},
{"x":331,"a":0.02,"b":0.01,"c":0.03,"d":0.02,"e":0.01,"f":0.01},
{"x":333,"a":0.03,"b":0.04,"c":0.02,"d":0.03,"e":0.04,"f":0.04},
{"x":335,"a":0.02,"b":0.02,"c":0.04,"d":0.01,"e":0.02,"f":0.02},
{"x":337,"a":0.01,"b":0.04,"c":0.03,"d":0.02,"e":0.04,"f":0.02},
{"x":339,"a":0.03,"b":0.02,"c":0.01,"d":0.04,"e":0.02,"f":0.04},
{"x":341,"a":0.02,"b":0.03,"c":0.04,"d":0.01,"e":0.03,"f":0.01},
{"x":343,"a":0.04,"b":0.01,"c":0.02,"d":0.03,"e":0.01,"f":0.03},
{"x":345,"a":0.04,"b":0.03,"c":0.01,"d":0.04,"e":0.03,"f":0.03},
{"x":347,"a":0.02,"b":0.01,"c":0.03,"d":0.02,"e":0.01,"f":0.01},
{"x":349,"a":0.03,"b":0.04,"c":0.02,"d":0.03,"e":0.04,"f":0.04},
{"x":351,"a":0.02,"b":0.02,"c":0.04,"d":0.01,"e":0.02,"f":0.02},
{"x":353,"a":0.01,"b":0.04,"c":0.03,"d":0.02,"e":0.04,"f":0.02},
{"x":355,"a":0.03,"b":0.02,"c":0.01,"d":0.04,"e":0.02,"f":0.04},
{"x":357,"a":0.02,"b":0.03,"c":0.04,"d":0.01,"e":0.03,"f":0.01},
{"x":359,"a":0.04,"b":0.01,"c":0.02,"d":0.03,"e":0.01,"f":0.03},
{"x":361,"a":0.04,"b":0.03,"c":0.01,"d":0.04,"e":0.03,"f":0.03},
{"x":363,"a":0.02,"b":0.01,"c":0.03,"d":0.02,"e":0.01,"f":0.01},
{"x":365,"a":0.03,"b":0.04,"c":0.02,"d":0.03,"e":0.04,"f":0.04},
{"x":367,"a":0.02,"b":0.02,"c":0.04,"d":0.01,"e":0.02,"f":0.02},
{"x":369,"a":0.01,"b":0.04,"c":0.03,"d":0.02,"e":0.04,"f":0.02},
{"x":371,"a":0.03,"b":0.02,"c":0.01,"d":0.04,"e":0.02,"f":0.04},
{"x":373,"a":0.02,"b":0.03,"c":0.04,"d":0.01,"e":0.03,"f":0.01},
{"x":375,"a":0.04,"b":0.01,"c":0.02,"d":0.03,"e":0.01,"f":0.03},
{"x":377,"a":0.04,"b":0.03,"c":0.01,"d":0.04,"e":0.03,"f":0.03},
{"x":379,"a":0.02,"b":0.01,"c":0.03,"d":0.02,"e":0.01,"f":0.01},
{"x":381,"a":0.03,"b":0.04,"c":0.02,"d":0.03,"e":0.04,"f":0.04},
{"x":383,"a":0.02,"b":0.02,"c":0.04,"d":0.01,"e":0.02,"f":0.02},
{"x":385,"a":0.01,"b":0.04,"c":0.03,"d":0.02,"e":0.04,"f":0.02},
{"x":387,"a":0.03,"b":0.02,"c":0.05,"d":0.04,"e":0.02,"f":0.04},
{"x":389,"a":0.02,"b":0.03,"c":0.04,"d":0.01,"e":0.03,"f":0.01},
{"x":391,"a":0.04,"b":0.01,"c":0.02,"d":0.03,"e":0.01,"f":0.03},
{"x":393,"a":0.04,"b":0.03,"c":0.01,"d":0.04,"e":0.03,"f":0.03},
{"x":395,"a":0.02,"b":0.01,"c":0.03,"d":0.02,"e":0.01,"f":0.01},
{"x":397,"a":0.03,"b":0.04,"c":0.02,"d":0.03,"e":0.04,"f":0.04},
{"x":399,"a":0.02,"b":0.02,"c":0.04,"d":0.01,"e":0.02,"f":0.02},
{"x":401,"a":0.01,"b":0.04,"c":0.03,"d":0.02,"e":0.04,"f":0.02},
{"x":403,"a":0.03,"b":0.02,"c":0.01,"d":0.04,"e":0.02,"f":0.04},
{"x":405,"a":0.02,"b":0.03,"c":0.04,"d":0.01,"e":0.03,"f":0.01},
{"x":407,"a":0.04,"b":0.01,"c":0.02,"d":0.03,"e":0.01,"f":0.03},
{"x":409,"a":0.04,"b":0.03,"c":0.01,"d":0.04,"e":0.03,"f":0.03},
{"x":411,"a":0.02,"b":0.01,"c":0.03,"d":0.02,"e":0.01,"f":0.01},
{"x":413,"a":0.03,"b":0.04,"c":0.02,"d":0.03,"e":0.04,"f":0.04},
{"x":415,"a":0.02,"b":0.02,"c":0.04,"d":0.01,"e":0.02,"f":0.02},
{"x":417,"a":0.01,"b":0.04,"c":0.03,"d":0.02,"e":0.04,"f":0.02},
{"x":419,"a":0.03,"b":0.02,"c":0.01,"d":0.04,"e":0.02,"f":0.04},
{"x":421,"a":0.02,"b":0.03,"c":0.04,"d":0.01,"e":0.03,"f":0.01},
{"x":423,"a":0.04,"b":0.01,"c":0.02,"d":0.03,"e":0.01,"f":0.03},
{"x":425,"a":0.04,"b":0.03,"c":0.01,"d":0.04,"e":0.03,"f":0.03},
{"x":427,"a":0.02,"b":0.01,"c":0.03,"d":0.02,"e":0.01,"f":0.01},
{"x":429,"a":0.03,"b":0.04,"c":0.02,"d":0.03,"e":0.04,"f":0.04},
{"x":431,"a":0.02,"b":0.02,"c":0.04,"d":0.01,"e":0.02,"f":0.02},
{"x":433,"a":0.01,"b":0.04,"c":0.03,"d":0.02,"e":0.04,"f":0.02},
{"x":435,"a":0.03,"b":0.02,"c":0.01,"d":0.04,"e":0.02,"f":0.04},
{"x":437,"a":0.02,"b":0.03,"c":0.04,"d":0.01,"e":0.03,"f":0.01},
{"x":439,"a":0.04,"b":0.01,"c":0.02,"d":0.03,"e":0.01,"f":0.03},
{"x":441,"a":0.04,"b":0.03,"c":0.01,"d":0.04,"e":0.03,"f":0.03},
{"x":443,"a":0.02,"b":0.01,"c":0.03,"d":0.02,"e":0.01,"f":0.01},
{"x":445,"a":0.03,"b":0.04,"c":0.02,"d":0.03,"e":0.04,"f":0.05},
{"x":447,"a":0.02,"b":0.02,"c":0.04,"d":0.01,"e":0.02,"f":0.02},
{"x":449,"a":0.01,"b":0.04,"c":0.03,"d":0.02,"e":0.04,"f":0.02},
{"x":451,"a":0.03,"b":0.02,"c":0.01,"d":0.04,"e":0.02,"f":0.04},
{"x":453,"a":0.02,"b":0.03,"c":0.04,"d":0.01,"e":0.03,"f":0.01},
{"x":455,"a":0.04,"b":0.01,"c":0.02,"d":0.03,"e":0.01,"f":0.03},
{"x":457,"a":0.04,"b":0.03,"c":0.01,"d":0.04,"e":0.03,"f":0.03},
{"x":459,"a":0.02,"b":0.01,"c":0.03,"d":0.02,"e":0.01,"f":0.01},
{"x":461,"a":0.03,"b":0.04,"c":0.02,"d":0.03,"e":0.04,"f":0.04},
{"x":463,"a":0.02,"b":0.02,"c":0.04,"d":0.01,"e":0.02,"f":0.02},
{"x":465,"a":0.01,"b":0.04,"c":0.03,"d":0.02,"e":0.04,"f":0.02},
{"x":467,"a":0.03,"b":0.02,"c":0.01,"d":0.05,"e":0.02,"f":0.04},
{"x":469,"a":0.02,"b":0.03,"c":0.04,"d":0.01,"e":0.03,"f":0.01},
{"x":471,"a":0.04,"b":0.01,"c":0.02,"d":0.03,"e":0.01,"f":0.03},
{"x":473,"a":0.04,"b":0.03,"c":0.01,"d":0.04,"e":0.03,"f":0.03},
{"x":475,"a":0.02,"b":0.01,"c":0.03,"d":0.02,"e":0.01,"f":0.01},
{"x":477,"a":0.03,"b":0.04,"c":0.02,"d":0.03,"e":0.04,"f":0.04},
{"x":479,"a":0.02,"b":0.02,"c":0.04,"d":0.01,"e":0.02,"f":0.02},
{"x":481,"a":0.01,"b":0.04,"c":0.03,"d":0.02,"e":0.04,"f":0.02},
{"x":483,"a":0.03,"b":0.02,"c":0.01,"d":0.04,"e":0.02,"f":0.04},
{"x":485,"a":0.02,"b":0.03,"c":0.04,"d":0.01,"e":0.03,"f":0.01},
{"x":487,"a":0.04,"b":0.01,"c":0.02,"d":0.03,"e":0.01,"f":0.03},
{"x":489,"a":0.04,"b":0.03,"c":0.01,"d":0.04,"e":0.03,"f":0.03},
{"x":491,"a":0.02,"b":0.01,"c":0.03,"d":0.02,"e":0.01,"f":0.01},
{"x":493,"a":0.03,"b":0.04,"c":0.02,"d":0.03,"e":0.04,"f":0.04},
{"x":495,"a":0.02,"b":0.02,"c":0.04,"d":0.01,"e":0.02,"f":0.02},
{"x":497,"a":0.01,"b":0.04,"c":0.03,"d":0.02,"e":0.04,"f":0.02},
{"x":499,"a":0.03,"b":0.02,"c":0.01,"d":0.04,"e":0.02,"f":0.04}
],
"arr":[
{"p":1,"x":30.8,"v":0.2046,"x2":17.0,"v2":0.2431,"c":"r"},
{"p":1,"x":91.6,"v":0.0708,"x2":77.8,"v2":0.1093,"c":"r"},
{"p":1,"x":119.5,"v":0.2492,"x2":105.7,"v2":0.2877,"c":"r"},
{"p":1,"x":240.5,"v":0.2492,"x2":226.7,"v2":0.2877,"c":"g"},
{"p":2,"x":29.9,"v":0.1297,"x2":16.1,"v2":0.1682,"c":"r"},
{"p":2,"x":119.5,"v":0.2435,"x2":105.7,"v2":0.282,"c":"r"},
{"p":3,"x":29.9,"v":0.2134,"x2":16.1,"v2":0.2519,"c":"r"},
{"p":3,"x":119.5,"v":0.2457,"x2":105.7,"v2":0.2842,"c":"r"},
{"p":3,"x":150.9,"v":0.078,"x2":137.1,"v2":0.1165,"c":"r"},
{"p":3,"x":240.5,"v":0.1026,"x2":226.7,"v2":0.1411,"c":"g"},
{"p":4,"x":29.9,"v":0.2477,"x2":16.1,"v2":0.2862,"c":"r"},
{"p":4,"x":90.6,"v":0.0585,"x2":76.8,"v2":0.097,"c":"r"},
{"p":4,"x":119.5,"v":0.2446,"x2":105.7,"v2":0.2831,"c":"r"},
{"p":4,"x":150.9,"v":0.0877,"x2":137.1,"v2":0.1262,"c":"r"},
{"p":4,"x":240.5,"v":0.2508,"x2":226.7,"v2":0.2893,"c":"g"},
{"p":5,"x":29.9,"v":0.2297,"x2":16.1,"v2":0.2682,"c":"r"},
{"p":5,"x":60.2,"v":0.1282,"x2":46.4,"v2":0.1667,"c":"r"},
{"p":5,"x":119.5,"v":0.2482,"x2":105.7,"v2":0.2867,"c":"r"},
{"p":5,"x":240.5,"v":0.2451,"x2":226.7,"v2":0.2836,"c":"g"},
{"p":6,"x":29.9,"v":0.0949,"x2":16.1,"v2":0.1334,"c":"r"},
{"p":6,"x":90.6,"v":0.0688,"x2":76.8,"v2":0.1073,"c":"r"},
{"p":6,"x":119.5,"v":0.2488,"x2":105.7,"v2":0.2873,"c":"r"},
{"p":6,"x":150.9,"v":0.0995,"x2":137.1,"v2":0.138,"c":"r"},
{"p":6,"x":240.5,"v":0.2549,"x2":226.7,"v2":0.2934,"c":"g"}
],
"lab":[
{"p":1,"x":490.5,"v":0.245,"t":"Sensor #1"},
{"p":2,"x":490.5,"v":0.246,"t":"Sensor #2"},
{"p":3,"x":492.4,"v":0.249,"t":"Sensor #3"},
{"p":4,"x":491,"v":0.252,"t":"Sensor #4"},
{"p":5,"x":492.4,"v":0.257,"t":"Sensor #5"},
{"p":6,"x":490,"v":0.248,"t":"Sensor #6"}
]
},
"vconcat":[
{"width":1054,"height":195.3,
"encoding":{"x":{"field":"x","type":"quantitative","scale":{"domain":[0,500],"nice":false},"axis":{"labels":false,"title":null,"gridDash":{"condition":{"test":"datum.value%50===0","value":[]},"value":[2,3]},"gridColor":{"condition":{"test":"datum.value%50===0","value":"#c8c8c8"},"value":"#b4b4b4"}}},
"y":{"field":"v","type":"quantitative","scale":{"domain":[0,0.3],"nice":false},"axis":{"title":null}}},
"layer":[
{"data":{"name":"s"},"transform":[{"fold":["a"],"as":["k","v"]}],"mark":{"type":"line","clip":true,"color":"#1b58a6","strokeWidth":1.15}},
{"data":{"name":"arr"},"transform":[{"filter":"datum.p==1"}],"mark":{"type":"rule","strokeWidth":1.8},"encoding":{"x2":{"field":"x2"},"y2":{"field":"v2"},"color":{"field":"c","type":"nominal","scale":{"domain":["r","g"],"range":["#ff2a2a","#1fae4f"]},"legend":null}}},
{"data":{"name":"arr"},"transform":[{"filter":"datum.p==1"}],"mark":{"type":"point","shape":"M0,0L-2,-0.85L-2,0.85Z","filled":true,"size":225,"angle":41,"opacity":1},"encoding":{"color":{"field":"c","type":"nominal","scale":{"domain":["r","g"],"range":["#ff2a2a","#1fae4f"]},"legend":null}}},
{"data":{"name":"lab"},"transform":[{"filter":"datum.p==1"}],"mark":{"type":"text","align":"right","baseline":"middle","font":"Lato","fontSize":38,"color":"#111"},"encoding":{"text":{"field":"t"}}}
]},
{"width":1054,"height":195.3,
"encoding":{"x":{"field":"x","type":"quantitative","scale":{"domain":[0,500],"nice":false},"axis":{"labels":false,"title":null,"gridDash":{"condition":{"test":"datum.value%50===0","value":[]},"value":[2,3]},"gridColor":{"condition":{"test":"datum.value%50===0","value":"#c8c8c8"},"value":"#b4b4b4"}}},
"y":{"field":"v","type":"quantitative","scale":{"domain":[0,0.3],"nice":false},"axis":{"title":null}}},
"layer":[
{"data":{"name":"s"},"transform":[{"fold":["b"],"as":["k","v"]}],"mark":{"type":"line","clip":true,"color":"#1b58a6","strokeWidth":1.15}},
{"data":{"name":"arr"},"transform":[{"filter":"datum.p==2"}],"mark":{"type":"rule","strokeWidth":1.8},"encoding":{"x2":{"field":"x2"},"y2":{"field":"v2"},"color":{"field":"c","type":"nominal","scale":{"domain":["r","g"],"range":["#ff2a2a","#1fae4f"]},"legend":null}}},
{"data":{"name":"arr"},"transform":[{"filter":"datum.p==2"}],"mark":{"type":"point","shape":"M0,0L-2,-0.85L-2,0.85Z","filled":true,"size":225,"angle":41,"opacity":1},"encoding":{"color":{"field":"c","type":"nominal","scale":{"domain":["r","g"],"range":["#ff2a2a","#1fae4f"]},"legend":null}}},
{"data":{"name":"lab"},"transform":[{"filter":"datum.p==2"}],"mark":{"type":"text","align":"right","baseline":"middle","font":"Lato","fontSize":38,"color":"#111"},"encoding":{"text":{"field":"t"}}}
]},
{"width":1054,"height":195.3,
"encoding":{"x":{"field":"x","type":"quantitative","scale":{"domain":[0,500],"nice":false},"axis":{"labels":false,"title":null,"gridDash":{"condition":{"test":"datum.value%50===0","value":[]},"value":[2,3]},"gridColor":{"condition":{"test":"datum.value%50===0","value":"#c8c8c8"},"value":"#b4b4b4"}}},
"y":{"field":"v","type":"quantitative","scale":{"domain":[0,0.3],"nice":false},"axis":{"title":null}}},
"layer":[
{"data":{"name":"s"},"transform":[{"fold":["c"],"as":["k","v"]}],"mark":{"type":"line","clip":true,"color":"#1b58a6","strokeWidth":1.15}},
{"data":{"name":"arr"},"transform":[{"filter":"datum.p==3"}],"mark":{"type":"rule","strokeWidth":1.8},"encoding":{"x2":{"field":"x2"},"y2":{"field":"v2"},"color":{"field":"c","type":"nominal","scale":{"domain":["r","g"],"range":["#ff2a2a","#1fae4f"]},"legend":null}}},
{"data":{"name":"arr"},"transform":[{"filter":"datum.p==3"}],"mark":{"type":"point","shape":"M0,0L-2,-0.85L-2,0.85Z","filled":true,"size":225,"angle":41,"opacity":1},"encoding":{"color":{"field":"c","type":"nominal","scale":{"domain":["r","g"],"range":["#ff2a2a","#1fae4f"]},"legend":null}}},
{"data":{"name":"lab"},"transform":[{"filter":"datum.p==3"}],"mark":{"type":"text","align":"right","baseline":"middle","font":"Lato","fontSize":38,"color":"#111"},"encoding":{"text":{"field":"t"}}}
]},
{"width":1054,"height":195.3,
"encoding":{"x":{"field":"x","type":"quantitative","scale":{"domain":[0,500],"nice":false},"axis":{"labels":false,"title":null,"gridDash":{"condition":{"test":"datum.value%50===0","value":[]},"value":[2,3]},"gridColor":{"condition":{"test":"datum.value%50===0","value":"#c8c8c8"},"value":"#b4b4b4"}}},
"y":{"field":"v","type":"quantitative","scale":{"domain":[0,0.3],"nice":false},"axis":{"title":"Comprimento de Onda (pm)","titleY":13}}},
"layer":[
{"data":{"name":"s"},"transform":[{"fold":["d"],"as":["k","v"]}],"mark":{"type":"line","clip":true,"color":"#1b58a6","strokeWidth":1.15}},
{"data":{"name":"arr"},"transform":[{"filter":"datum.p==4"}],"mark":{"type":"rule","strokeWidth":1.8},"encoding":{"x2":{"field":"x2"},"y2":{"field":"v2"},"color":{"field":"c","type":"nominal","scale":{"domain":["r","g"],"range":["#ff2a2a","#1fae4f"]},"legend":null}}},
{"data":{"name":"arr"},"transform":[{"filter":"datum.p==4"}],"mark":{"type":"point","shape":"M0,0L-2,-0.85L-2,0.85Z","filled":true,"size":225,"angle":41,"opacity":1},"encoding":{"color":{"field":"c","type":"nominal","scale":{"domain":["r","g"],"range":["#ff2a2a","#1fae4f"]},"legend":null}}},
{"data":{"name":"lab"},"transform":[{"filter":"datum.p==4"}],"mark":{"type":"text","align":"right","baseline":"middle","font":"Lato","fontSize":38,"color":"#111"},"encoding":{"text":{"field":"t"}}}
]},
{"width":1054,"height":195.3,
"encoding":{"x":{"field":"x","type":"quantitative","scale":{"domain":[0,500],"nice":false},"axis":{"labels":false,"title":null,"gridDash":{"condition":{"test":"datum.value%50===0","value":[]},"value":[2,3]},"gridColor":{"condition":{"test":"datum.value%50===0","value":"#c8c8c8"},"value":"#b4b4b4"}}},
"y":{"field":"v","type":"quantitative","scale":{"domain":[0,0.3],"nice":false},"axis":{"title":null}}},
"layer":[
{"data":{"name":"s"},"transform":[{"fold":["e"],"as":["k","v"]}],"mark":{"type":"line","clip":true,"color":"#1b58a6","strokeWidth":1.15}},
{"data":{"name":"arr"},"transform":[{"filter":"datum.p==5"}],"mark":{"type":"rule","strokeWidth":1.8},"encoding":{"x2":{"field":"x2"},"y2":{"field":"v2"},"color":{"field":"c","type":"nominal","scale":{"domain":["r","g"],"range":["#ff2a2a","#1fae4f"]},"legend":null}}},
{"data":{"name":"arr"},"transform":[{"filter":"datum.p==5"}],"mark":{"type":"point","shape":"M0,0L-2,-0.85L-2,0.85Z","filled":true,"size":225,"angle":41,"opacity":1},"encoding":{"color":{"field":"c","type":"nominal","scale":{"domain":["r","g"],"range":["#ff2a2a","#1fae4f"]},"legend":null}}},
{"data":{"name":"lab"},"transform":[{"filter":"datum.p==5"}],"mark":{"type":"text","align":"right","baseline":"middle","font":"Lato","fontSize":38,"color":"#111"},"encoding":{"text":{"field":"t"}}}
]},
{"width":1054,"height":195.3,
"encoding":{"x":{"field":"x","type":"quantitative","scale":{"domain":[0,500],"nice":false},"axis":{"labelExpr":"datum.value%50===0?datum.label:''","title":"Frequência (Hz)","titleX":515,"gridDash":{"condition":{"test":"datum.value%50===0","value":[]},"value":[2,3]},"gridColor":{"condition":{"test":"datum.value%50===0","value":"#c8c8c8"},"value":"#b4b4b4"}}},
"y":{"field":"v","type":"quantitative","scale":{"domain":[0,0.3],"nice":false},"axis":{"title":null}}},
"layer":[
{"data":{"name":"s"},"transform":[{"fold":["f"],"as":["k","v"]}],"mark":{"type":"line","clip":true,"color":"#1b58a6","strokeWidth":1.15}},
{"data":{"name":"arr"},"transform":[{"filter":"datum.p==6"}],"mark":{"type":"rule","strokeWidth":1.8},"encoding":{"x2":{"field":"x2"},"y2":{"field":"v2"},"color":{"field":"c","type":"nominal","scale":{"domain":["r","g"],"range":["#ff2a2a","#1fae4f"]},"legend":null}}},
{"data":{"name":"arr"},"transform":[{"filter":"datum.p==6"}],"mark":{"type":"point","shape":"M0,0L-2,-0.85L-2,0.85Z","filled":true,"size":225,"angle":41,"opacity":1},"encoding":{"color":{"field":"c","type":"nominal","scale":{"domain":["r","g"],"range":["#ff2a2a","#1fae4f"]},"legend":null}}},
{"data":{"name":"lab"},"transform":[{"filter":"datum.p==6"}],"mark":{"type":"text","align":"right","baseline":"middle","font":"Lato","fontSize":38,"color":"#111"},"encoding":{"text":{"field":"t"}}}
]}
]
}
